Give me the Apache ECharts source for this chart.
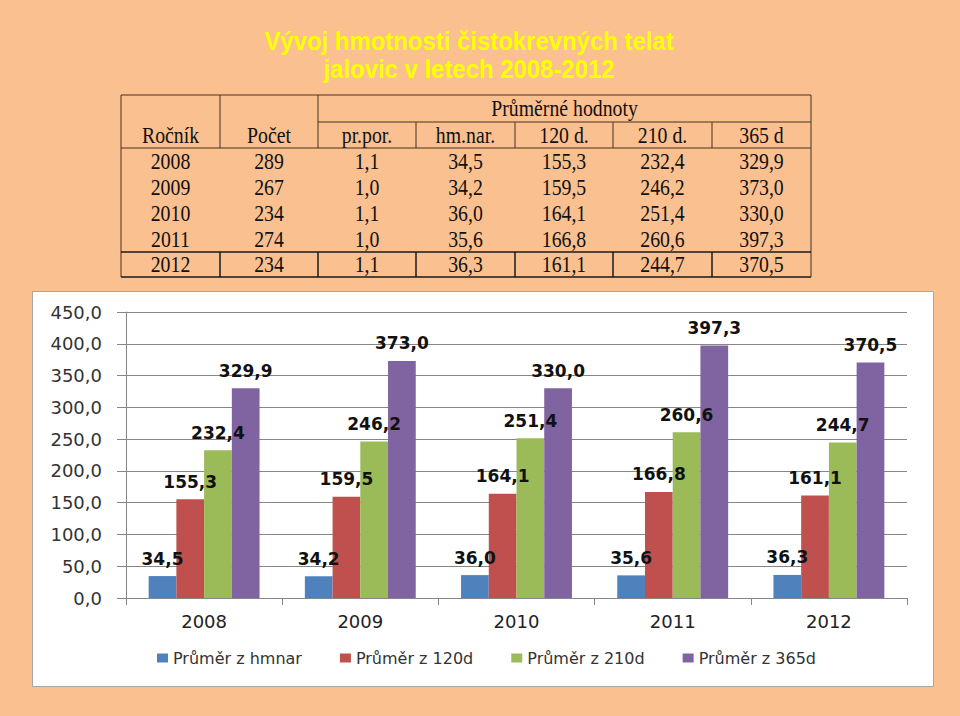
<!DOCTYPE html>
<html>
<head>
<meta charset="utf-8">
<script src="https://cdn.jsdelivr.net/npm/echarts@6/dist/echarts.min.js"></script>
<style>
html,body{margin:0;padding:0;background:#FAC090;}
#chart{width:960px;height:716px;}
</style>
</head>
<body>
<div id="chart"></div>
<script>
// ---- data ----
const titleLines = ['Vývoj hmotnosti čistokrevných telat', 'jalovic v letech 2008-2012'];
const years = ['2008', '2009', '2010', '2011', '2012'];
const counts = [289, 267, 234, 274, 234];
const prPor = [1.1, 1.0, 1.1, 1.0, 1.1];
const hmNar = [34.5, 34.2, 36.0, 35.6, 36.3];
const d120 = [155.3, 159.5, 164.1, 166.8, 161.1];
const d210 = [232.4, 246.2, 251.4, 260.6, 244.7];
const d365 = [329.9, 373.0, 330.0, 397.3, 370.5];
const tableHeaders = ['Ročník', 'Počet', 'pr.por.', 'hm.nar.', '120 d.', '210 d.', '365 d'];
const groupHeader = 'Průměrné hodnoty';
const seriesNames = ['Průměr z hmnar', 'Průměr z 120d', 'Průměr z 210d', 'Průměr z 365d'];
const seriesValues = [hmNar, d120, d210, d365];
const yMin = 0, yMax = 450, yStep = 50;

// ---- layout / style ----
const colors = ['#4F81BD', '#C0504D', '#9BBB59', '#8064A2'];
const fmt = v => Number(v).toFixed(1).replace('.', ',');
const colX = [121, 220, 318, 416, 515, 613, 712, 811];
const rowY = [95, 122, 148, 174, 200, 226, 252, 277];
const tFont = 'Liberation Serif, Times New Roman, serif';

const graphics = [];
// chart panel
graphics.push({type: 'rect', z: -10, shape: {x: 32.5, y: 291.5, width: 901, height: 395},
  style: {fill: '#ffffff', stroke: '#a6a6a6', lineWidth: 1}});
// title
titleLines.forEach((t, i) => graphics.push({type: 'text', x: 469, y: 41 + i * 28, scaleX: 0.92,
  style: {text: t, fill: '#FFFF00', fontFamily: 'Liberation Sans, Arial, sans-serif', fontWeight: 'bold',
    fontSize: 26, align: 'center', verticalAlign: 'middle'}}));
// table text
function cell(text, cx, cy) {
  graphics.push({type: 'text', x: cx, y: cy, scaleX: 0.86, style: {text: text, fill: '#111', fontFamily: tFont,
    fontSize: 23, align: 'center', verticalAlign: 'middle'}});
}
const cxs = colX.slice(0, -1).map((x, i) => (x + colX[i + 1]) / 2);
cell(groupHeader, (colX[2] + colX[7]) / 2, (rowY[0] + rowY[1]) / 2);
tableHeaders.forEach((h, i) => cell(h, cxs[i], (rowY[1] + rowY[2]) / 2));
years.forEach((y, r) => {
  const row = [y, String(counts[r]), fmt(prPor[r]), fmt(hmNar[r]), fmt(d120[r]), fmt(d210[r]), fmt(d365[r])];
  row.forEach((t, c) => cell(t, cxs[c], (rowY[r + 2] + rowY[r + 3]) / 2));
});
// table lines
function ln(x1, y1, x2, y2, w, col) {
  graphics.push({type: 'line', shape: {x1: x1, y1: y1, x2: x2, y2: y2},
    style: {stroke: col || '#4a3220', lineWidth: w || 1}});
}
ln(colX[0], rowY[0], colX[7], rowY[0]);
ln(colX[0], rowY[0], colX[0], rowY[7]);
ln(colX[7], rowY[0], colX[7], rowY[7]);
ln(colX[1], rowY[0], colX[1], rowY[2]);
ln(colX[2], rowY[0], colX[2], rowY[2]);
ln(colX[2], rowY[1], colX[7], rowY[1]);
for (let i = 3; i < 7; i++) ln(colX[i], rowY[1], colX[i], rowY[2]);
ln(colX[0], rowY[2], colX[7], rowY[2]);
ln(colX[0], rowY[6], colX[7], rowY[6], 1.5, '#1a1a1a');
for (let i = 1; i < 7; i++) ln(colX[i], rowY[6], colX[i], rowY[7], 1.5, '#1a1a1a');
ln(colX[0], rowY[7], colX[7], rowY[7], 1.5, '#1a1a1a');

const chart = echarts.init(document.getElementById('chart'), null, {renderer: 'svg'});
chart.setOption({
  backgroundColor: '#FAC090',
  animation: false,
  color: colors,
  graphic: graphics,
  grid: {left: 126, right: 53, top: 312, bottom: 118},
  legend: {
    data: seriesNames, left: 157, top: 650, padding: 0, itemWidth: 11, itemHeight: 9, itemGap: 38,
    icon: 'rect',
    textStyle: {fontFamily: 'DejaVu Sans', fontSize: 16, color: '#333'}
  },
  xAxis: {
    type: 'category', data: years,
    axisLine: {lineStyle: {color: '#868686'}},
    axisTick: {show: true, length: 7, lineStyle: {color: '#868686'}},
    axisLabel: {margin: 14, fontFamily: 'DejaVu Sans', fontSize: 18, color: '#222'}
  },
  yAxis: {
    type: 'value', min: yMin, max: yMax, interval: yStep,
    axisLine: {show: true, lineStyle: {color: '#868686'}},
    axisTick: {show: true, length: 9, lineStyle: {color: '#868686'}},
    splitLine: {lineStyle: {color: '#868686'}},
    axisLabel: {margin: 24, fontFamily: 'DejaVu Sans', fontSize: 18, color: '#333', formatter: v => fmt(v)}
  },
  series: seriesNames.map((n, i) => ({
    name: n, type: 'bar', data: seriesValues[i],
    barGap: '0%', barCategoryGap: '29%',
    label: {show: true, position: 'top', distance: 9, formatter: p => fmt(p.value),
      fontFamily: 'DejaVu Sans', fontWeight: 'bold', fontSize: 17, color: '#111'}
  }))
});
</script>
</body>
</html>
